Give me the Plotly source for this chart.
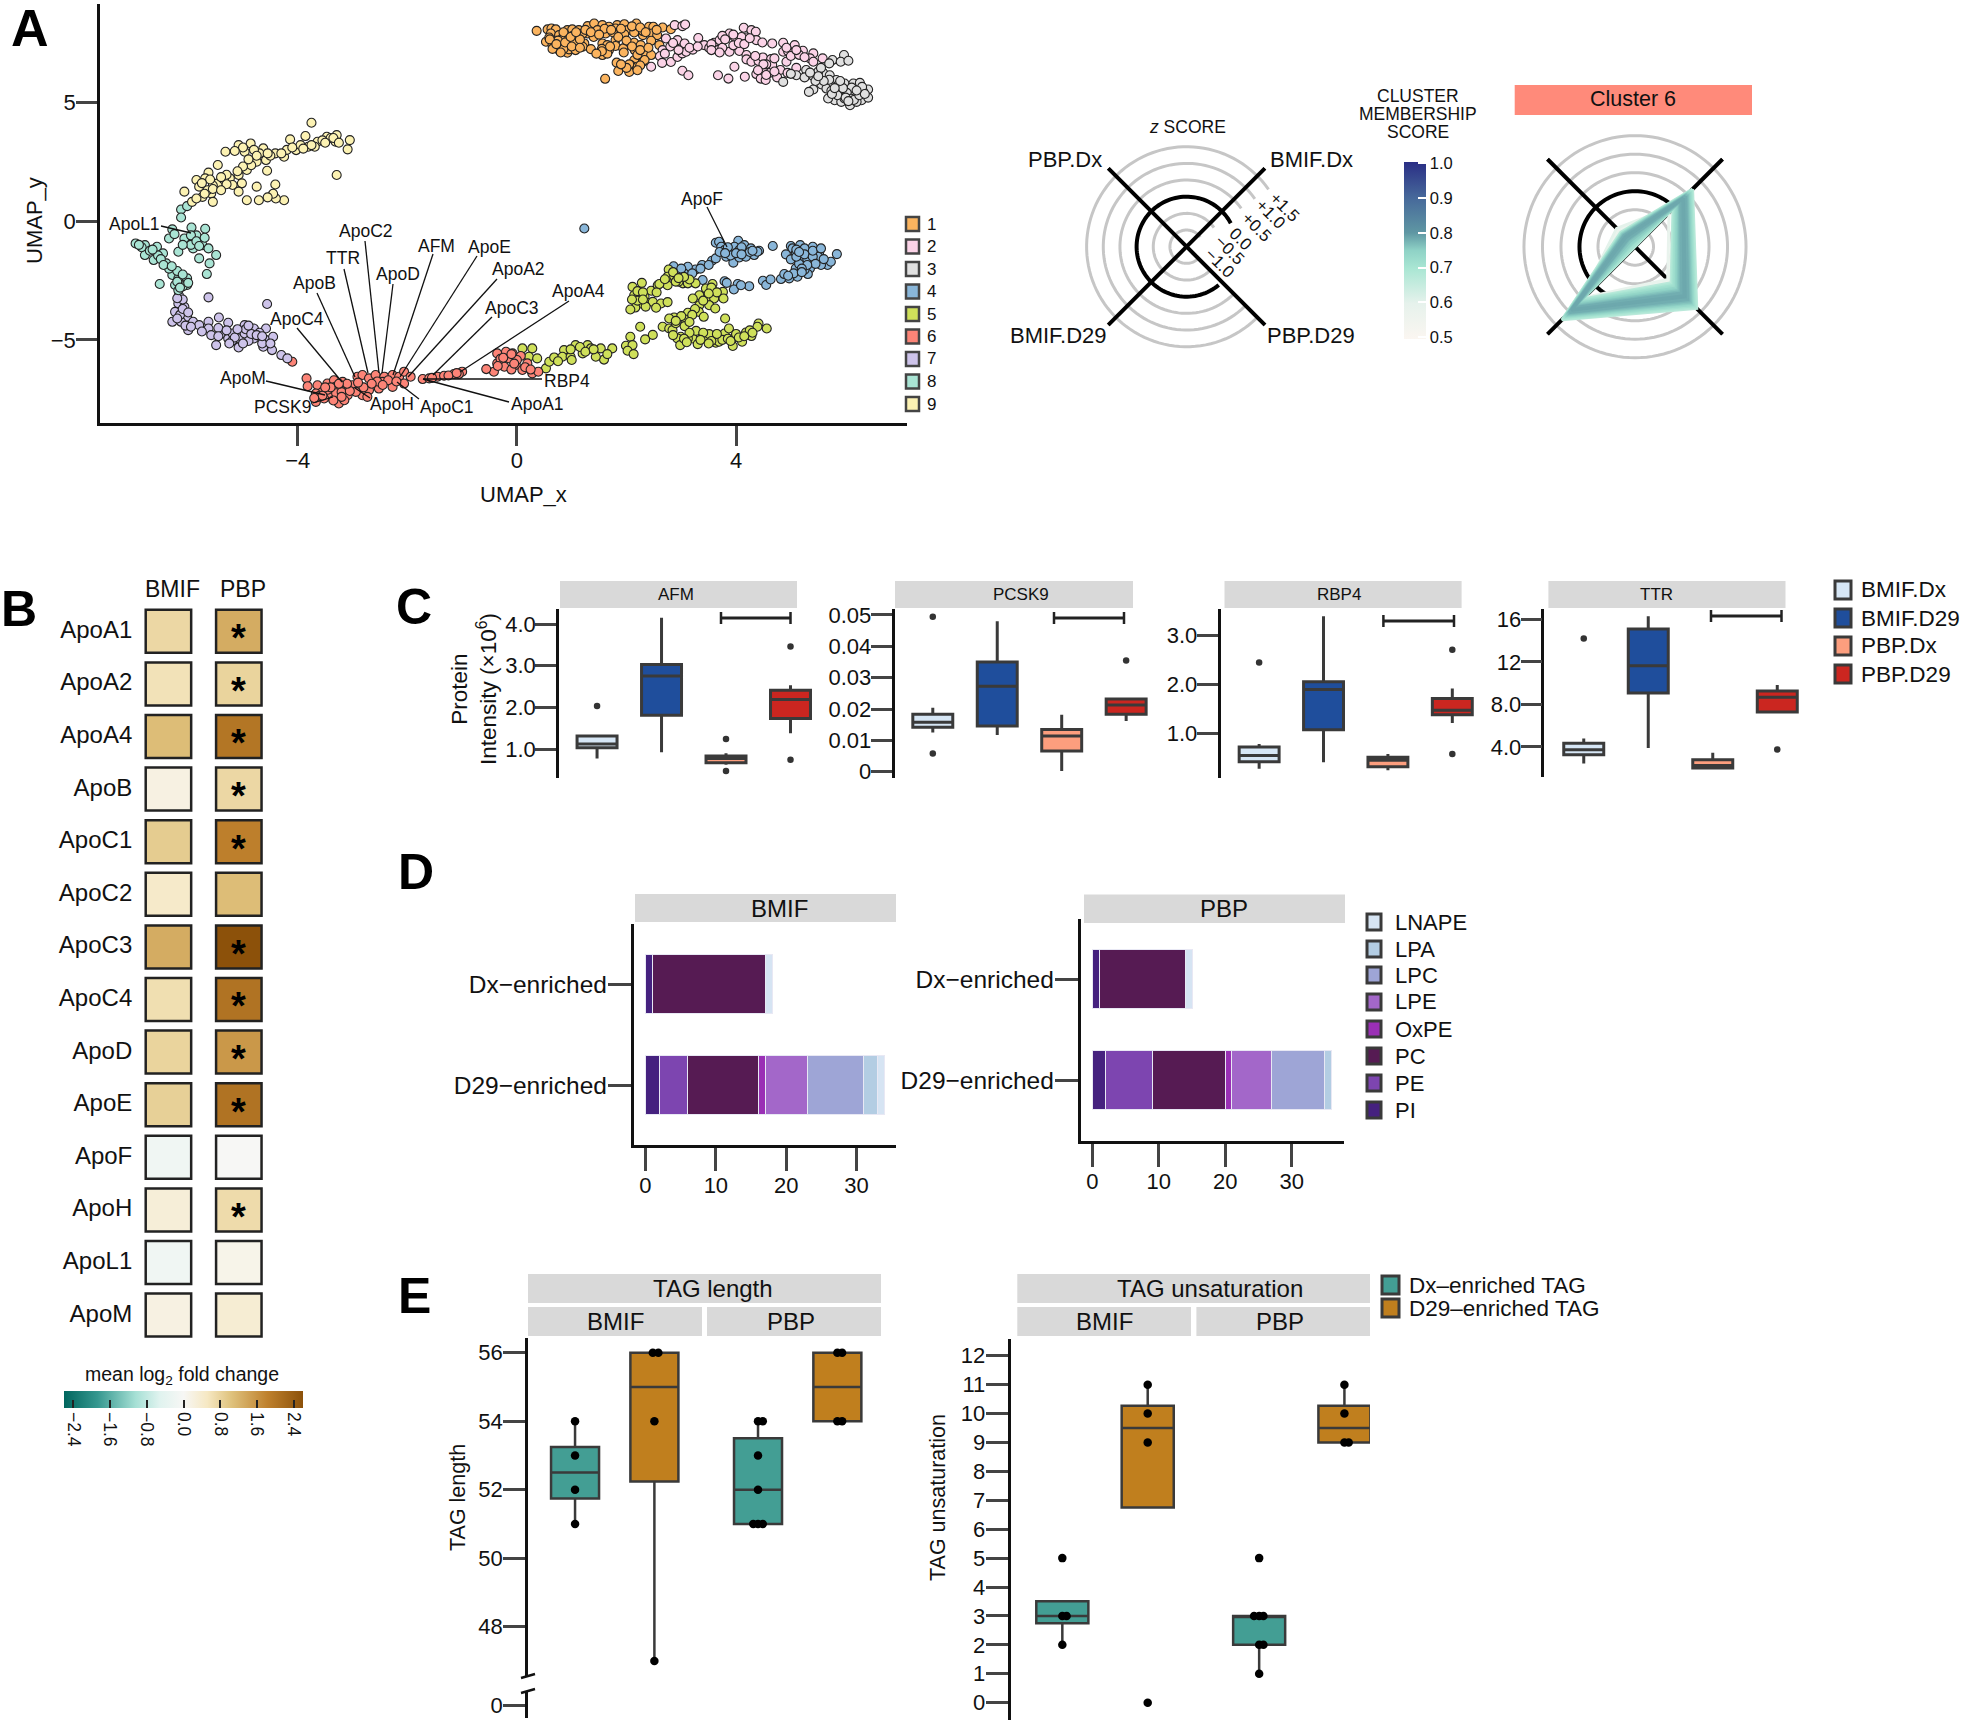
import plotly.graph_objects as go
from plotly.colors import sample_colorscale

W, H = 1961, 1720
FONT = "Liberation Sans, Arial, sans-serif"

# ---------- Panel A data (UMAP coordinates) ----------
CLUSTER_1 = [(.36,8.01),(.56,8.07),(.63,8.11),(.71,8.07),(.62,7.90),(.77,7.83),(.53,7.55),(.68,7.55),(.59,7.73),(.83,7.69),(.92,8.04),(1.01,8.07),(1.13,8.04),(1.29,8.21),(1.41,8.32),(1.56,8.25),(1.68,8.18),(1.83,8.25),(1.96,8.29),(2.18,8.32),(2.41,8.18),(2.49,8.18),(2.66,8.15),(2.81,8.08),(1.01,7.79),(1.13,7.76),(1.29,7.90),(1.47,8.04),(1.62,7.90),(1.80,8.11),(2.02,8.04),(2.14,7.94),(1.96,7.86),(2.30,7.83),(2.47,7.90),(2.56,7.83),(.77,7.2),(.92,7.09),(.95,7.23),(1.10,7.48),(1.23,7.48),(1.07,7.2),(1.20,7.34),(1.35,7.24),(.92,7.48),(1.56,7.48),(1.65,7.41),(1.80,7.62),(1.56,6.99),(1.68,7.2),(1.80,7.37),(1.94,7.27),(2.14,7.51),(2.26,7.41),(2.45,7.59),(2.60,7.41),(2.15,7.2),(2.31,7.09),(2.45,6.99),(2.30,6.7),(2.14,6.77),(2.08,6.56),(1.82,6.67),(2.05,6.28),(1.85,6.32),(1.61,5.99),(2.20,6.5),(2.33,6.78),(.65,7.41),(.83,7.41),(.75,7.6),(.95,7.65),(.85,7.95),(1.05,7.55),(1.2,7.9),(1.4,7.75),(1.6,8.1),(1.75,7.95),(1.9,8.1),(2.1,8.2),(2.3,8.0),(2.55,8.05),(.65,7.25),(.85,7.25),(1.15,7.65),(1.65,7.05),(1.55,7.25),(1.95,7.1),(2.2,7.0),(2.05,6.6),(2.25,6.55),(.6,7.65),(.72,7.45),(.88,7.52),(1.0,7.35),(.8,7.1),(1.15,7.3),(.98,7.75),(1.08,7.95),(1.25,8.05),(1.35,7.95),(1.5,7.85),(1.72,8.05),(1.85,7.75),(2.25,8.15),(2.35,7.95),(2.0,7.6),(2.1,7.35),(2.25,7.2),(2.4,7.3),(1.55,7.15),(1.7,7.35),(1.45,7.05),(2.0,6.45),(2.2,6.35),(1.9,6.6)]
CLUSTER_2 = [(2.88,8.25),(3.02,8.21),(3.07,8.28),(2.72,7.69),(2.93,7.62),(3.06,7.48),(2.66,7.2),(2.61,6.94),(2.65,6.66),(2.81,6.7),(2.93,6.91),(3.02,7.06),(3.09,7.13),(3.21,7.22),(3.31,7.71),(3.42,7.41),(3.51,7.29),(3.60,7.51),(3.70,7.62),(3.88,7.90),(3.97,7.76),(4.14,8.14),(4.28,8.04),(4.36,7.97),(4.19,7.73),(4.37,7.62),(4.48,7.52),(4.66,7.48),(4.86,7.51),(5.07,7.41),(5.22,7.17),(5.41,7.06),(5.58,6.85),(4.86,7.13),(5.03,7.06),(3.67,7.2),(3.88,7.13),(4.06,7.16),(4.19,6.99),(4.19,6.81),(4.28,6.71),(4.41,6.74),(4.49,6.89),(4.64,6.82),(4.92,6.71),(5.10,6.45),(5.35,6.85),(5.41,6.71),(3.02,6.33),(3.13,6.14),(2.45,6.5),(3.67,6.14),(3.86,6.0),(3.97,6.5),(4.16,6.08),(4.37,6.19),(4.45,6.0),(4.54,5.94),(4.61,6.24),(4.49,6.43),(4.81,6.36),(4.94,6.24),(4.75,6.05),(4.66,6.57),(3.75,7.8),(3.95,7.4),(4.1,7.75),(3.75,7.3),(4.95,7.15),(2.8,7.35),(2.95,7.2),(4.55,6.6),(2.85,7.5),(2.7,7.05),(3.15,7.3),(3.3,7.35),(3.55,7.45),(3.8,7.65),(3.95,7.85),(4.05,7.5),(4.15,7.45),(4.25,7.7),(4.5,6.6),(4.4,6.35),(4.55,6.15),(4.7,6.3),(5.0,6.95),(5.15,7.0),(5.25,6.9),(5.1,7.2),(4.92,7.3),(3.55,7.2),(3.7,7.1),(4.35,6.95),(4.7,6.85)]
CLUSTER_3 = [(5.76,6.78),(5.97,6.99),(5.91,6.71),(6.05,6.75),(5.70,6.64),(5.28,6.36),(5.10,6.14),(5.25,6.05),(5.41,6.1),(5.59,6.24),(5.71,6.14),(5.83,5.94),(4.86,5.86),(5.56,5.75),(5.65,5.58),(5.41,5.54),(5.33,5.44),(5.74,5.49),(5.80,5.09),(5.92,5.30),(6.05,5.51),(5.98,5.79),(6.14,5.79),(6.26,5.82),(6.41,5.54),(6.23,5.3),(6.14,5.44),(6.08,4.88),(6.29,5.09),(6.41,5.2),(5.92,5.02),(6.11,5.62),(5.83,5.51),(5.98,5.16),(5.68,5.16),(6.2,5.02),(5.5,6.3),(5.85,5.7),(6.02,5.4),(6.32,5.45),(6.1,5.15),(5.85,5.3),(6.3,5.65),(5.95,5.6),(5.55,6.45),(5.7,5.95),(5.6,5.9),(5.75,5.35),(5.9,5.9),(6.0,5.2),(6.15,5.1),(6.25,5.3),(6.35,5.35),(6.2,5.5),(6.05,5.05),(5.8,5.6),(5.45,5.9),(5.5,6.1),(5.0,6.2),(5.35,6.25)]
CLUSTER_4 = [(3.63,-.91),(3.69,-.87),(3.73,-1.08),(3.79,-1.22),(3.91,-1.29),(4.04,-.83),(4.15,-1.01),(3.97,-1.08),(4.06,-1.22),(4.17,-1.29),(3.95,-1.75),(3.82,-1.50),(4.06,-1.53),(4.18,-1.50),(4.33,-1.43),(4.42,-1.25),(4.27,-1.15),(4.39,-1.29),(4.67,-1.05),(5.0,-1.05),(5.03,-1.15),(5.17,-1.01),(5.40,-1.08),(5.52,-1.29),(5.34,-1.36),(5.09,-1.36),(4.91,-1.40),(5.0,-1.61),(5.20,-1.67),(5.46,-1.57),(5.67,-1.85),(5.73,-1.71),(5.84,-1.39),(5.55,-1.85),(5.35,-1.99),(5.09,-1.99),(5.31,-2.23),(5.12,-2.34),(4.97,-2.41),(4.82,-2.44),(4.88,-2.23),(3.56,-1.67),(3.38,-1.85),(3.50,-1.85),(3.63,-1.57),(3.26,-2.04),(3.12,-1.92),(2.96,-2.09),(2.86,-1.9),(3.39,-2.48),(3.79,-2.53),(3.83,-2.6),(4.03,-2.65),(4.24,-2.74),(4.49,-2.51),(4.55,-2.69),(4.63,-2.46),(3.96,-2.88),(4.09,-2.7),(1.23,-.31),(5.25,-1.15),(5.3,-1.6),(5.5,-1.5),(5.15,-1.8),(5.25,-2.05),(3.9,-1.45),(4.1,-1.1),(3.05,-2.2),(3.7,-1.3),(3.85,-1.1),(4.0,-1.35),(4.25,-1.3),(4.3,-1.25),(4.1,-1.4),(3.8,-1.35),(5.1,-1.5),(5.25,-1.4),(5.4,-1.5),(5.6,-1.6),(5.45,-1.8),(5.3,-1.85),(5.2,-2.0),(5.4,-1.25),(5.55,-1.15),(5.05,-2.2),(5.2,-2.15),(3.0,-2.0),(3.2,-2.2),(3.35,-2.0),(5.1,-1.2),(4.95,-2.3),(5.15,-1.3)]
CLUSTER_5 = [(2.11,-2.77),(2.28,-2.60),(2.45,-2.93),(2.57,-2.7),(2.75,-2.7),(2.77,-2.04),(2.75,-2.34),(2.87,-2.32),(3.03,-2.62),(3.12,-2.62),(3.26,-2.62),(3.15,-2.46),(2.14,-3.12),(2.23,-3.19),(2.33,-3.19),(2.25,-3.47),(2.37,-3.44),(2.48,-3.4),(2.63,-3.47),(2.75,-3.41),(2.54,-3.65),(2.16,-3.64),(2.07,-3.72),(3.57,-2.65),(3.45,-2.84),(3.60,-2.98),(3.76,-2.98),(3.48,-3.19),(3.33,-3.12),(3.21,-3.26),(3.6,-3.26),(3.77,-3.26),(3.33,-3.54),(3.51,-3.54),(3.62,-3.68),(3.32,-3.82),(3.12,-3.86),(3.41,-4.03),(3.07,-4.14),(2.87,-4.06),(2.78,-4.1),(3.80,-4.1),(2.66,-4.45),(2.78,-4.52),(3.06,-4.42),(2.84,-4.59),(2.25,-4.45),(2.07,-4.87),(2.48,-4.79),(2.34,-4.98),(1.99,-5.25),(2.11,-5.22),(2.02,-5.46),(2.13,-5.6),(2.99,-4.87),(2.93,-4.94),(3.21,-4.94),(3.44,-4.94),(3.60,-4.87),(3.79,-4.73),(3.87,-4.52),(3.97,-4.9),(4.18,-4.69),(4.41,-4.31),(4.39,-4.45),(4.56,-4.52),(2.98,-5.22),(3.30,-5.18),(3.63,-5.12),(3.69,-5.08),(3.94,-5.26),(4.11,-5.08),(4.28,-4.84),(3.27,-4.62),(3.51,-4.76),(3.12,-4.94),(.10,-5.36),(.28,-5.36),(.22,-5.71),(.37,-5.78),(.53,-6.2),(.59,-5.92),(.68,-5.74),(.86,-5.43),(.83,-5.71),(.98,-5.71),(1.07,-5.22),(1.29,-5.22),(1.35,-5.36),(1.53,-5.36),(1.59,-5.83),(1.74,-5.36),(1.44,-5.71),(1.2,-5.57),(2.9,-4.3),(3.15,-4.7),(3.4,-4.7),(3.75,-5.0),(4.0,-4.75),(4.25,-4.6),(3.55,-5.05),(2.55,-3.0),(2.95,-2.55),(2.2,-3.35),(2.6,-2.65),(2.7,-2.45),(2.9,-2.55),(3.05,-2.35),(2.85,-2.15),(2.95,-2.4),(2.2,-2.95),(2.3,-3.0),(2.1,-3.3),(2.35,-3.6),(2.3,-3.3),(3.55,-2.8),(3.65,-3.0),(3.4,-3.35),(3.5,-3.05),(3.25,-3.7),(3.2,-3.95),(3.0,-4.0),(2.9,-4.2),(3.15,-4.25),(2.85,-4.8),(3.05,-4.95),(3.1,-5.1),(3.35,-5.0),(3.5,-5.15),(3.65,-4.75),(3.85,-4.95),(3.9,-5.05),(4.05,-4.9),(4.15,-4.85),(4.3,-4.7),(.98,-5.4),(1.15,-5.3),(1.25,-5.5),(1.4,-5.4),(1.65,-5.6),(.75,-5.9),(1.0,-5.85)]
CLUSTER_6 = [(-3.84,-6.62),(-3.82,-6.95),(-3.64,-6.91),(-3.46,-6.84),(-3.34,-6.7),(-3.18,-6.77),(-3.31,-6.98),(-3.12,-7.05),(-3.0,-6.91),(-2.91,-6.55),(-2.82,-6.48),(-2.7,-6.62),(-2.58,-6.48),(-2.42,-6.55),(-2.27,-6.48),(-2.15,-6.55),(-2.06,-6.34),(-1.94,-6.55),(-2.06,-6.84),(-2.27,-6.98),(-2.45,-6.77),(-2.52,-7.05),(-2.7,-7.12),(-2.82,-7.33),(-2.73,-7.4),(-2.94,-7.19),(-3.09,-7.33),(-3.25,-7.68),(-3.4,-7.4),(-3.55,-7.19),(-3.67,-7.26),(-3.67,-7.61),(-3.52,-7.47),(-3.15,-7.54),(-1.72,-6.65),(-1.6,-6.62),(-1.45,-6.55),(-1.33,-6.51),(-1.15,-6.44),(-1.0,-6.34),(-.36,-5.57),(-.2,-5.5),(-.08,-5.57),(.07,-5.68),(-.36,-5.99),(-.42,-6.34),(-.56,-6.23),(-.23,-6.13),(-.02,-6.06),(.1,-6.27),(.28,-6.41),(.39,-6.34),(-.14,-5.78),(.19,-5.99),(-1.06,-6.44),(-4.1,-5.92),(-3.45,-7.1),(-3.3,-7.25),(-3.6,-7.35),(-2.55,-6.75),(-3.2,-7.2),(-.3,-5.8),(.0,-5.85),(-.1,-6.25),(-3.4,-7.0),(-3.55,-7.35),(-3.35,-7.55),(-3.2,-7.4),(-3.05,-7.15),(-2.8,-7.0),(-2.9,-6.8),(-2.65,-6.85),(-2.35,-6.7),(-2.2,-6.75),(-2.45,-6.9),(-3.1,-6.85),(-3.25,-6.85),(-3.5,-7.0),(-3.7,-7.45),(-1.55,-6.6),(-1.25,-6.5),(-1.1,-6.4),(-.25,-5.75),(-.05,-6.0),(.15,-6.15),(.25,-6.25),(-.35,-6.1),(-.1,-5.6)]
CLUSTER_7 = [(-5.63,-3.21),(-4.56,-3.49),(-6.17,-3.12),(-6.18,-3.47),(-6.07,-3.61),(-6.24,-3.82),(-6.02,-4.03),(-6.29,-4.24),(-6.13,-4.24),(-5.91,-4.24),(-6.0,-4.59),(-5.63,-4.24),(-5.44,-4.06),(-5.27,-4.28),(-5.63,-4.52),(-5.58,-4.8),(-5.38,-4.73),(-4.97,-4.38),(-4.8,-4.52),(-4.58,-4.52),(-5.27,-4.94),(-5.08,-4.94),(-4.8,-4.94),(-4.58,-5.01),(-4.45,-4.87),(-5.49,-5.22),(-5.08,-5.32),(-4.63,-5.29),(-4.47,-5.43),(-4.3,-5.64),(-4.19,-5.78),(-4.97,-4.73),(-5.19,-4.73),(-5.8,-4.38),(-6.1,-3.3),(-6.15,-3.95),(-6.05,-4.4),(-5.45,-4.5),(-5.2,-5.05),(-4.9,-5.05),(-4.7,-4.7),(-4.65,-5.15),(-4.95,-4.55),(-6.1,-3.7),(-6.0,-3.85),(-6.2,-4.1),(-5.95,-4.45),(-5.75,-4.65),(-5.45,-4.85),(-5.3,-4.6),(-5.15,-4.9),(-5.0,-5.15),(-4.85,-4.75),(-4.75,-4.8),(-4.9,-4.4),(-4.65,-4.85),(-4.5,-5.15),(-5.25,-5.15),(-5.1,-4.55),(-6.2,-3.25)]
CLUSTER_8 = [(-6.13,.49),(-6.02,.63),(-6.13,.15),(-5.94,-.27),(-5.69,-.32),(-6.29,-.35),(-6.35,-.73),(-6.07,-.73),(-5.8,-.8),(-5.74,-1.01),(-6.96,-.94),(-6.79,-1.01),(-6.57,-1.08),(-6.46,-1.36),(-6.79,-1.43),(-6.63,-1.64),(-6.18,-1.29),(-5.63,-1.15),(-5.49,-1.43),(-5.8,-1.57),(-5.61,-1.78),(-5.66,-2.23),(-6.4,-1.78),(-6.29,-2.27),(-6.52,-2.65),(-6.18,-2.41),(-6.02,-2.41),(-6.24,-2.69),(-6.02,-2.69),(-6.18,-2.91),(-5.91,-1.15),(-6.85,-1.1),(-6.7,-1.25),(-6.55,-1.45),(-6.35,-2.0),(-5.85,-.6),(-5.95,-1.0),(-6.2,-2.1),(-6.1,-2.75),(-6.25,-.55),(-5.95,-.6),(-5.85,-.85),(-5.7,-.7),(-6.1,-1.0),(-6.65,-1.2),(-6.5,-1.6),(-6.45,-1.85),(-6.3,-1.9),(-6.2,-2.55),(-6.1,-2.25),(-6.15,-2.8),(-6.0,-2.6),(-6.9,-1.0),(-5.8,-1.05)]
CLUSTER_9 = [(-3.75,4.14),(-3.05,3.41),(-3.29,3.62),(-3.47,3.55),(-3.64,3.34),(-3.86,3.58),(-4.14,3.44),(-4.03,2.99),(-3.81,3.13),(-4.25,2.71),(-4.41,2.85),(-4.63,3.06),(-4.86,3.27),(-5.08,3.2),(-4.97,2.92),(-5.32,2.92),(-4.58,2.57),(-4.75,2.5),(-4.93,2.15),(-5.08,1.94),(-5.24,1.8),(-5.63,2.04),(-5.46,2.36),(-5.85,1.73),(-5.69,1.8),(-5.46,1.59),(-5.19,1.52),(-5.02,1.59),(-4.56,2.12),(-4.41,1.54),(-4.75,1.45),(-4.47,1.09),(-4.25,.88),(-4.71,.88),(-4.93,.88),(-5.08,1.24),(-5.58,1.16),(-5.74,1.02),(-6.07,1.24),(-5.55,.81),(-5.93,.81),(-3.29,1.94),(-3.09,3.02),(-3.31,3.34),(-3.69,3.13),(-3.55,3.4),(-3.4,3.5),(-3.95,3.2),(-4.2,3.0),(-4.5,2.75),(-4.7,2.85),(-4.85,2.35),(-5.35,1.75),(-5.55,1.5),(-5.8,1.45),(-5.65,1.3),(-5.3,1.55),(-4.4,.95),(-3.35,3.5),(-3.25,3.3),(-3.5,3.3),(-3.75,3.2),(-3.9,3.05),(-4.1,3.1),(-4.3,2.85),(-4.55,2.85),(-4.8,3.0),(-5.0,3.1),(-5.15,2.95),(-4.75,2.75),(-4.9,2.6),(-5.0,2.3),(-5.1,2.1),(-5.3,1.95),(-5.4,1.85),(-5.6,1.75),(-5.75,1.6),(-5.55,1.35),(-5.7,1.15),(-5.85,.95),(-5.4,1.3),(-4.45,1.15),(-4.55,1.0)]
CLUSTER_COLORS = ["#fbb45f","#fbd3e7","#e0e0e0","#89b6d9","#cfe05a","#fc8477","#cdc3ea","#a9e4d4","#fcf2b3"]
CLUSTER_NAMES = ["1","2","3","4","5","6","7","8","9"]

# ---------- Radar ----------
RADAR_THETA = [45, 135, 225, 315, 45]   # BMIF.Dx, PBP.Dx, BMIF.D29, PBP.D29
RING_Z = [-1.0, -0.5, 0.5, 1.0, 1.5]
RING_LABELS = ["−1.0", "−0.5", "0.0", "+0.5", "+1.0", "+1.5"]
MEM_SCORE = [.55,.58,.6,.67,.67,.69,.69,.71,.71,.72,.73,.74,.75,.75,.76,.76,.77,.77,.78,.78,.78,.78,.785,.785]
Z_BMIF_DX = [.0,-.2,.1,-.05,.7,-.01,.66,.03,.63,.06,.59,.1,.55,.14,.51,.18,.48,.21,.44,.25,.4,.29,.36,.33]
Z_PBP_DX = [-.85,-.9,-.8,-1.5,-.95,-1.48,-.97,-1.45,-1.0,-1.4,-1.0,-1.38,-1.02,-1.35,-1.04,-1.3,-1.06,-1.25,-1.08,-1.22,-1.1,-1.18,-1.12,-1.15]
Z_BMIF_D29 = [.5,.45,.6,.5,1.29,.54,1.25,.58,1.21,.62,1.17,.66,1.13,.70,1.09,.74,1.05,.78,1.01,.82,.97,.86,.93,.9]
Z_PBP_D29 = [-.2,-.25,-.1,-.12,.86,-.07,.81,-.02,.76,.03,.71,.08,.66,.13,.62,.17,.57,.22,.52,.27,.47,.32,.42,.37]
MEM_SCALE = [[0,"#fbf6f1"],[.2,"#e6f2ec"],[.4,"#a9e6d3"],[.5,"#8fd2c6"],[.6,"#5f97a3"],[.8,"#46689a"],[1,"#2a2e85"]]

# ---------- Panel B ----------
APO = ["ApoA1","ApoA2","ApoA4","ApoB","ApoC1","ApoC2","ApoC3","ApoC4","ApoD","ApoE","ApoF","ApoH","ApoL1","ApoM"]
BMIF_LFC = [.75,.6,1.1,.2,.9,.45,1.3,.65,.8,.85,-.15,.3,-.15,.2]
PBP_LFC = [1.3,.8,2.0,.75,1.85,1.1,2.6,2.05,1.55,2.05,0,.7,.12,.35]
PBP_STAR = [1,1,1,1,1,0,1,1,1,1,0,1,0,0]
BRBG = [[0,"#01665e"],[.14,"#35978f"],[.3,"#a6e0d5"],[.4,"#e0f3ef"],[.5,"#f7f7f5"],[.6,"#f6e8c3"],[.7,"#dfc27d"],[.85,"#bf812d"],[1,"#8c510a"]]
LFC_TICKS = [-2.4,-1.6,-.8,0,.8,1.6,2.4]
LFC_TICKTEXT = ["−2.4","−1.6","−0.8","0.0","0.8","1.6","2.4"]
LFC_MINOR = [-2.0,-1.2,-.4,.4,1.2,2.0]

# ---------- Panel C ----------
C_GROUPS = ["BMIF.Dx","BMIF.D29","PBP.Dx","PBP.D29"]
C_COLORS = ["#d6e6f5","#1f4e9c","#fc9e7e","#cb2620"]
AFM_Q1=[1.03,1.81,.67,1.73]; AFM_MED=[1.12,2.75,.77,2.19]; AFM_Q3=[1.31,3.03,.83,2.41]; AFM_LOW=[.77,.92,.62,1.38]; AFM_HIGH=[1.31,4.15,.9,2.53]
AFM_OUT_X=[0,2,2,3,3]; AFM_OUT_Y=[2.03,1.24,.47,3.46,.74]
PCSK9_Q1=[.0142,.0146,.0066,.0183]; PCSK9_MED=[.0158,.0273,.0114,.0213]; PCSK9_Q3=[.0183,.035,.0135,.0232]; PCSK9_LOW=[.0125,.0117,.0002,.0162]; PCSK9_HIGH=[.0204,.048,.0182,.0232]
PCSK9_OUT_X=[0,0,3]; PCSK9_OUT_Y=[.0494,.0058,.0355]
RBP4_Q1=[.42,1.07,.32,1.38]; RBP4_MED=[.55,1.89,.45,1.47]; RBP4_Q3=[.72,2.05,.51,1.71]; RBP4_LOW=[.28,.41,.25,1.21]; RBP4_HIGH=[.78,3.38,.58,1.91]
RBP4_OUT_X=[0,3,3]; RBP4_OUT_Y=[2.44,2.7,.58]
TTR_Q1=[3.25,9.06,2.0,7.28]; TTR_MED=[3.72,11.63,2.25,8.66]; TTR_Q3=[4.34,15.09,2.78,9.25]; TTR_LOW=[2.44,3.88,1.9,7.28]; TTR_HIGH=[4.78,16.28,3.44,9.81]
TTR_OUT_X=[0,3]; TTR_OUT_Y=[14.19,3.75]

# ---------- Panel D ----------
LIPIDS = ["PI","PE","PC","OxPE","LPE","LPC","LPA","LNAPE"]
LIPID_COLORS = ["#45217f","#7d45b0","#561b53","#9a2fb5","#a367c9","#9ea5d6","#b3cde3","#d6e4f3"]
BMIF_DX_COUNT = [1,0,16,0,0,0,0,1]
BMIF_D29_COUNT = [2,4,10,1,6,8,2,1]
PBP_DX_COUNT = [1,0,13,0,0,0,0,1]
PBP_D29_COUNT = [2,7,11,1,6,8,1,0]
LEGEND_LIPIDS = ["LNAPE","LPA","LPC","LPE","OxPE","PC","PE","PI"]

# ---------- Panel E ----------
TEAL, ORANGE = "#439e94", "#c07f1e"
LEN_BM_Q1=[51.74,52.24]; LEN_BM_MED=[52.5,55]; LEN_BM_Q3=[53.25,56]; LEN_BM_LOW=[51,47]; LEN_BM_HIGH=[54,56]
LEN_PB_Q1=[51,54]; LEN_PB_MED=[52,55]; LEN_PB_Q3=[53.5,56]; LEN_PB_LOW=[51,54]; LEN_PB_HIGH=[54,56]
LEN_BM_PX=[0,0,0,0,.98,1.05,1,1]; LEN_BM_PY=[54,53,52,51,56,56,54,47]
LEN_PB_PX=[0,.06,0,0,-.06,0,.06,1,1.06,1,1.06]; LEN_PB_PY=[54,54,53,52,51,51,51,56,56,54,54]
UNS_BM_Q1=[2.75,6.75]; UNS_BM_MED=[3,9.5]; UNS_BM_Q3=[3.51,10.27]; UNS_BM_LOW=[2,6.75]; UNS_BM_HIGH=[3.51,11]
UNS_PB_Q1=[2,9]; UNS_PB_MED=[3,9.5]; UNS_PB_Q3=[3,10.27]; UNS_PB_LOW=[1,9]; UNS_PB_HIGH=[3,11]
UNS_BM_PX=[0,0,.05,0,1,1,1,1]; UNS_BM_PY=[5,3,3,2,11,10,9,0]
UNS_PB_PX=[0,-.06,0,.05,0,.05,0,1,1,1,1.05]; UNS_PB_PY=[5,3,3,3,2,2,1,11,10,9,9]

# ---------- Figure helpers ----------
fig = go.Figure()
layout = {}
shapes, annotations = [], []
ax_n = [0]

def px_x(x): return x / W
def px_y(y): return 1 - y / H

def line(x0, y0, x1, y1, color="#222", width=2.5):
    shapes.append(dict(type="line", xref="paper", yref="paper", x0=px_x(x0), x1=px_x(x1),
                       y0=px_y(y0), y1=px_y(y1), line=dict(color=color, width=width)))

def rect(x0, y0, x1, y1, fill, border=None, width=0):
    shapes.append(dict(type="rect", xref="paper", yref="paper", x0=px_x(x0), x1=px_x(x1),
                       y0=px_y(y0), y1=px_y(y1), fillcolor=fill,
                       line=dict(color=border or fill, width=width)))

def text(x, y, s, size=20, anchor="center", angle=0, bold=False, color="#111"):
    annotations.append(dict(xref="paper", yref="paper", x=px_x(x), y=px_y(y), text=s, showarrow=False,
                            xanchor=anchor, yanchor="middle", textangle=angle,
                            font=dict(size=size, color=color,
                                      family=FONT, weight="bold" if bold else "normal")))

def strip(x0, y0, x1, y1, s, size, tx=None):
    rect(x0, y0, x1, y1, "#d9d9d9")
    text(tx if tx is not None else (x0 + x1) / 2, (y0 + y1) / 2, s, size)

def axes(xd, yd, xr, yr, xo=None, yo=None):
    ax_n[0] += 1
    n = ax_n[0]
    base = dict(showgrid=False, zeroline=False, showline=False, ticks="", showticklabels=False, fixedrange=True)
    xa = dict(base, domain=[px_x(xd[0]), px_x(xd[1])], range=xr, anchor=f"y{n}")
    ya = dict(base, domain=[px_y(yd[1]), px_y(yd[0])], range=yr, anchor=f"x{n}")
    xa.update(xo or {})
    ya.update(yo or {})
    layout[f"xaxis{n}"] = xa
    layout[f"yaxis{n}"] = ya
    return f"x{n}", f"y{n}"

def tick_axis(vals, labels=None, size=22, ln=21, standoff=-4):
    d = dict(showline=True, linecolor="#111", linewidth=2.5, ticks="outside", ticklen=ln, tickwidth=2.5,
             tickcolor="#444", showticklabels=True, tickvals=vals, tickfont=dict(size=size, color="#111"),
             ticklabelstandoff=standoff)
    if labels is not None:
        d["ticktext"] = labels
    return d

def box(xa, ya, xpos, q1, med, q3, low, high, colors, width, lw=2.5):
    for i, c in enumerate(colors):
        fig.add_trace(go.Box(x=[xpos[i]], q1=[q1[i]], median=[med[i]], q3=[q3[i]], lowerfence=[low[i]],
                             upperfence=[high[i]], width=width, fillcolor=c, whiskerwidth=0,
                             boxpoints=False, line=dict(color="#3a3a3a", width=lw), xaxis=xa, yaxis=ya,
                             showlegend=False, hoverinfo="skip"))

def dots(xa, ya, xs, ys, size, color="#333"):
    fig.add_trace(go.Scatter(x=xs, y=ys, mode="markers", marker=dict(size=size, color=color),
                             xaxis=xa, yaxis=ya, showlegend=False, hoverinfo="skip"))

def legend_row(x0, x1, yc, h, color, label, tx, size):
    rect(x0, yc - h / 2, x1, yc + h / 2, color, "#3a3a3a", 3)
    text(tx, yc, label, size, anchor="left")

# ---------- Panel letters ----------
text(30, 28, "A", 52, bold=True, color="#000")
text(19, 609, "B", 50, bold=True, color="#000")
text(414, 607, "C", 50, bold=True, color="#000")
text(416, 872, "D", 50, bold=True, color="#000")
text(414, 1296, "E", 50, bold=True, color="#000")

# ---------- Panel A ----------
xa, ya = axes((100, 907), (4, 423), [-7.61, 7.12], [-8.5, 9.14],
              tick_axis([-4, 0, 4], size=22, ln=20), tick_axis([-5, 0, 5], size=22, ln=21))
clusters = [CLUSTER_1, CLUSTER_2, CLUSTER_3, CLUSTER_4, CLUSTER_5, CLUSTER_6, CLUSTER_7, CLUSTER_8, CLUSTER_9]
for pts, col, name in zip(clusters, CLUSTER_COLORS, CLUSTER_NAMES):
    fig.add_trace(go.Scatter(x=[p[0] for p in pts], y=[p[1] for p in pts], mode="markers", name=name,
                             marker=dict(size=9, color=col, line=dict(color="#222", width=1.1)),
                             xaxis=xa, yaxis=ya, showlegend=False, hoverinfo="skip"))
text(523, 494, "UMAP_x", 22)
text(35, 221, "UMAP_y", 22, angle=-90)
for i, (name, col) in enumerate(zip(CLUSTER_NAMES, CLUSTER_COLORS)):
    yc = 224 + 22.5 * i
    rect(906, yc - 7, 919, yc + 7, col, "#444", 2.5)
    text(925, yc, name, 17, anchor="left")

GENE_LABELS = [("ApoC2",366,231,365,241,379,373),("TTR",343,258,344,269,368,373),("AFM",436,246,433,254,393,375),
               ("ApoE",489,247,477,256,400,377),("ApoD",398,274,393,284,382,373),("ApoA2",518,269,497,279,408,377),
               ("ApoB",314,283,317,293,355,377),("ApoA4",578,291,569,301,460,372),("ApoC3",512,308,492,317,433,375),
               ("ApoC4",297,319,297,328,342,382),("ApoM",243,378,266,381,325,395),("PCSK9",282,407,313,403,333,397),
               ("ApoH",392,404,370,398,355,388),("ApoC1",447,407,419,399,397,382),("ApoA1",537,404,509,402,423,379),
               ("RBP4",567,381,542,379,423,379),("ApoF",702,199,707,207,727,247),("ApoL1",134,224,161,226,191,233)]
for name, tx, ty, x0, y0, x1, y1 in GENE_LABELS:
    text(tx, ty, name, 17.5)
    line(x0, y0, x1, y1, "#111", 1.3)

# ---------- Radar panels ----------
def ring_trace(sub, z, theta, color, width):
    fig.add_trace(go.Scatterpolar(r=[z] * len(theta), theta=theta, mode="lines", subplot=sub,
                                  line=dict(color=color, width=width), showlegend=False, hoverinfo="skip"))

def radar_axes(sub, cx, cy, R, zmax):
    layout[sub] = dict(domain=dict(x=[px_x(cx - R), px_x(cx + R)], y=[px_y(cy + R), px_y(cy - R)]),
                       bgcolor="rgba(0,0,0,0)",
                       radialaxis=dict(visible=False, showticklabels=False, range=[-1.5, zmax]),
                       angularaxis=dict(visible=False, showticklabels=False))
    for t in (45, 135, 225, 315):
        fig.add_trace(go.Scatterpolar(r=[-1.5, zmax], theta=[t, t], mode="lines", subplot=sub,
                                      line=dict(color="#000", width=4), showlegend=False, hoverinfo="skip"))

arc = list(range(35, 316, 3))
black_arc = list(range(28, 313, 3))
for z in RING_Z:
    ring_trace("polar", z, arc, "#c6c6c6", 3)
ring_trace("polar", 0, black_arc, "#000", 4)
radar_axes("polar", 1186.6, 246.7, 111, 1.83)
for s, (x, y) in zip(RING_LABELS, [(1220,263),(1230,250),(1241,239),(1257,227),(1271,214),(1285,207)]):
    text(x, y, s, 17, angle=45)
text(1065, 160, "PBP.Dx", 22)
text(1311, 160, "BMIF.Dx", 22)
text(1058, 336, "BMIF.D29", 22)
text(1311, 336, "PBP.D29", 22)
text(1187, 127, "<i>z</i> SCORE", 17.5)
text(1418, 96, "CLUSTER", 17.5)
text(1418, 114, "MEMBERSHIP", 17.5)
text(1418, 132, "SCORE", 17.5)

full = list(range(0, 361, 3))
for z in RING_Z:
    ring_trace("polar2", z, full, "#c6c6c6", 3)
ring_trace("polar2", 0, full, "#000", 4)
radar_axes("polar2", 1635, 246.7, 124, 1.85)
MEM_MIN, MEM_MAX = .495, 1.003
for i, s in enumerate(MEM_SCORE):
    c = sample_colorscale(MEM_SCALE, [(s - MEM_MIN) / (MEM_MAX - MEM_MIN)])[0]
    r = [Z_BMIF_DX[i], Z_PBP_DX[i], Z_BMIF_D29[i], Z_PBP_D29[i], Z_BMIF_DX[i]]
    fig.add_trace(go.Scatterpolar(r=r, theta=RADAR_THETA, mode="lines", subplot="polar2",
                                  line=dict(color=c, width=3), showlegend=False, hoverinfo="skip"))
fig.add_trace(go.Scatterpolar(r=Z_BMIF_DX, theta=[45] * len(MEM_SCORE), mode="markers", subplot="polar2",
                              showlegend=False, hoverinfo="skip",
                              marker=dict(size=1, opacity=0, color=MEM_SCORE, colorscale=MEM_SCALE, cmin=MEM_MIN, cmax=MEM_MAX,
                                          colorbar=dict(x=px_x(1403.5), xanchor="left", y=px_y(162), yanchor="top",
                                                        len=177, lenmode="pixels", thickness=21.5, outlinewidth=0,
                                                        xpad=0, ypad=0, ticks="inside", tickcolor="#fff", ticklen=8,
                                                        tickwidth=2, tickvals=[.5, .6, .7, .8, .9, 1.0],
                                                        ticktext=["0.5", "0.6", "0.7", "0.8", "0.9", "1.0"],
                                                        tickfont=dict(size=16.5, color="#111")))))
rect(1514.7, 85, 1752, 115, "#ff8a7a")
text(1633, 99, "Cluster 6", 21.5)

# ---------- Panel B ----------
xa, ya = axes((133.25, 274), (605, 1341.4), [-.5, 1.5], [13.5, -.5], None,
              dict(showticklabels=True, tickvals=list(range(14)), ticktext=APO, tickfont=dict(size=24, color="#111"),
                   ticks="", ticklabelshift=2))
fig.add_trace(go.Heatmap(z=[[a, b] for a, b in zip(BMIF_LFC, PBP_LFC)], x=[0, 1], y=list(range(14)), xgap=25, ygap=10,
                         zmin=-2.6, zmax=2.6, colorscale=BRBG, xaxis=xa, yaxis=ya, hoverinfo="skip",
                         colorbar=dict(orientation="h", x=px_x(183.5), xanchor="center", y=px_y(1391), yanchor="top",
                                       len=239, lenmode="pixels", thickness=17, outlinewidth=0, xpad=0, ypad=0,
                                       ticks="inside", ticklen=8, tickwidth=1.5, tickcolor="#222",
                                       tickvals=LFC_TICKS, ticktext=LFC_TICKTEXT, tickangle=90,
                                       tickfont=dict(size=17.5, color="#111"))))
for v in LFC_MINOR:
    line(183.5 + 45.96 * v, 1400, 183.5 + 45.96 * v, 1408, "#222", 1.5)
for i in range(14):
    for j in range(2):
        shapes.append(dict(type="rect", xref=xa, yref=ya, x0=j - .323, x1=j + .323, y0=i - .409, y1=i + .409,
                           line=dict(color="#222", width=2.5)))
    if PBP_STAR[i]:
        annotations.append(dict(xref=xa, yref=ya, x=1, y=i, text="*", showarrow=False, yshift=-7,
                                font=dict(size=38, color="#000", family=FONT, weight="bold")))
text(172, 589, "BMIF", 23)
text(243, 589, "PBP", 23)
text(182, 1375, "mean log<sub>2</sub> fold change", 19.5)

# ---------- Panel C ----------
C_PANELS = [
 ("AFM", (559, 815), (609, 778), [-.59, 3.38], [.304, 4.36], [1, 2, 3, 4], ["1.0", "2.0", "3.0", "4.0"],
  AFM_Q1, AFM_MED, AFM_Q3, AFM_LOW, AFM_HIGH, AFM_OUT_X, AFM_OUT_Y, (560, 797, 675.5), (721, 790.5, 618)),
 ("PCSK9", (894.5, 1150), (609, 778), [-.594, 3.37], [-.002, .0519], [0, .01, .02, .03, .04, .05], ["0", "0.01", "0.02", "0.03", "0.04", "0.05"],
  PCSK9_Q1, PCSK9_MED, PCSK9_Q3, PCSK9_LOW, PCSK9_HIGH, PCSK9_OUT_X, PCSK9_OUT_Y, (895, 1133, 1021), (1054, 1124, 618)),
 ("RBP4", (1220.5, 1480), (609, 778), [-.60, 3.43], [.09, 3.53], [1, 2, 3], ["1.0", "2.0", "3.0"],
  RBP4_Q1, RBP4_MED, RBP4_Q3, RBP4_LOW, RBP4_HIGH, RBP4_OUT_X, RBP4_OUT_Y, (1224.5, 1461.6, 1338.5), (1383.4, 1454, 621)),
 ("TTR", (1544.4, 1805), (609, 777), [-.61, 3.43], [1.16, 16.97], [4, 8, 12, 16], ["4.0", "8.0", "12", "16"],
  TTR_Q1, TTR_MED, TTR_Q3, TTR_LOW, TTR_HIGH, TTR_OUT_X, TTR_OUT_Y, (1548.4, 1785.5, 1656.5), (1711, 1781.5, 616)),
]
for name, xd, yd, xr, yr, tv, tt, q1, med, q3, low, high, ox, oy, st, br in C_PANELS:
    xa, ya = axes(xd, yd, xr, yr, None, tick_axis(tv, tt, size=22, ln=21, standoff=-5))
    box(xa, ya, [0, 1, 2, 3], q1, med, q3, low, high, C_COLORS, .62, 3)
    dots(xa, ya, ox, oy, 6.5)
    strip(st[0], 581, st[1], 608, name, 17, st[2])
    line(br[0], br[2], br[1], br[2], "#222", 3)
    line(br[0], br[2] - 6, br[0], br[2] + 6, "#222", 2.5)
    line(br[1], br[2] - 6, br[1], br[2] + 6, "#222", 2.5)
text(474, 689, "Protein<br>Intensity (×10<sup>6</sup>)", 22.5, angle=-90)
for name, col, yc in zip(C_GROUPS, C_COLORS, [590, 618, 646, 674]):
    legend_row(1835, 1851, yc, 18, col, name, 1859, 22.5)

# ---------- Panel D ----------
D_TICKS = [0, 10, 20, 30]
D_CATS = ["D29−enriched", "Dx−enriched"]
D_PANELS = [((633.6, 896), (924, 1145), [-1.69, 35.6], [-.596, 1.6], BMIF_D29_COUNT, BMIF_DX_COUNT, (635, 896, 894, 922, 779), "BMIF"),
            ((1080.5, 1343.5), (919, 1141), [-1.79, 37.8], [-.6, 1.597], PBP_D29_COUNT, PBP_DX_COUNT, (1084, 1345, 894.5, 923, 1223.5), "PBP")]
for xd, yd, xr, yr, d29, dx, st, name in D_PANELS:
    xa, ya = axes(xd, yd, xr, yr, tick_axis(D_TICKS, size=22, ln=23, standoff=-4), tick_axis([0, 1], D_CATS, size=24.5, ln=23, standoff=-4))
    for k, (lip, col) in enumerate(zip(LIPIDS, LIPID_COLORS)):
        fig.add_trace(go.Bar(y=[0, 1], x=[d29[k], dx[k]], orientation="h", width=.586, name=lip,
                             marker=dict(color=col, line=dict(color="#e8e8f4", width=1)), xaxis=xa, yaxis=ya,
                             showlegend=False, hoverinfo="skip"))
    strip(st[0], st[2], st[1], st[3], name, 24, st[4])
for name, yc in zip(LEGEND_LIPIDS, [922, 949, 975, 1002, 1029, 1056, 1083, 1110]):
    legend_row(1367, 1381, yc, 16, LIPID_COLORS[LIPIDS.index(name)], name, 1392.5, 22)

# ---------- Panel E ----------
# TAG length: broken y axis
LEN_TICKS = [48, 50, 52, 54, 56]
xa, ya = axes((528, 702), (1338, 1677), [-.593, 1.6], [46.53, 56.43], None, tick_axis(LEN_TICKS, size=22, ln=22))
box(xa, ya, [0, 1], LEN_BM_Q1, LEN_BM_MED, LEN_BM_Q3, LEN_BM_LOW, LEN_BM_HIGH, [TEAL, ORANGE], .605)
dots(xa, ya, LEN_BM_PX, LEN_BM_PY, 8.5, "#000")
xa, ya = axes((707, 881), (1338, 1677), [-.643, 1.55], [46.53, 56.43])
box(xa, ya, [0, 1], LEN_PB_Q1, LEN_PB_MED, LEN_PB_Q3, LEN_PB_LOW, LEN_PB_HIGH, [TEAL, ORANGE], .605)
dots(xa, ya, LEN_PB_PX, LEN_PB_PY, 8.5, "#000")
xa, ya = axes((528, 702), (1692, 1718), [-.593, 1.6], [-1, 1], None, tick_axis([0], size=22, ln=22))
fig.add_trace(go.Scatter(x=[0], y=[0], mode="markers", marker=dict(opacity=0), xaxis=xa, yaxis=ya, showlegend=False, hoverinfo="skip"))
line(521, 1678, 535, 1674, "#111", 2.5)
line(521, 1693, 535, 1689, "#111", 2.5)
strip(528, 1274, 881, 1303, "TAG length", 24, 713)
strip(528, 1307, 702, 1336, "BMIF", 24, 615.5)
strip(707, 1307, 881, 1336, "PBP", 24, 790.5)
text(458, 1498, "TAG length", 21.5, angle=-90)

# TAG unsaturation
UNS_TICKS = list(range(13))
xa, ya = axes((1010.5, 1191), (1339, 1720), [-.607, 1.507], [-.6, 12.58], None, tick_axis(UNS_TICKS, size=22, ln=22))
box(xa, ya, [0, 1], UNS_BM_Q1, UNS_BM_MED, UNS_BM_Q3, UNS_BM_LOW, UNS_BM_HIGH, [TEAL, ORANGE], .61)
dots(xa, ya, UNS_BM_PX, UNS_BM_PY, 8.5, "#000")
xa, ya = axes((1196.4, 1370), (1339, 1720), [-.736, 1.30], [-.6, 12.58])
box(xa, ya, [0, 1], UNS_PB_Q1, UNS_PB_MED, UNS_PB_Q3, UNS_PB_LOW, UNS_PB_HIGH, [TEAL, ORANGE], .61)
dots(xa, ya, UNS_PB_PX, UNS_PB_PY, 8.5, "#000")
strip(1017.3, 1274, 1370, 1303, "TAG unsaturation", 24, 1209.5)
strip(1017.3, 1307, 1191, 1336, "BMIF", 24, 1104.5)
strip(1196.4, 1307, 1370, 1336, "PBP", 24, 1280)
text(938, 1498, "TAG unsaturation", 21.5, angle=-90)
legend_row(1382, 1399, 1285, 18, TEAL, "Dx–enriched TAG", 1407, 22.5)
legend_row(1382, 1399, 1308, 18, ORANGE, "D29–enriched TAG", 1407, 22.5)

fig.update_layout(width=W, height=H, margin=dict(l=0, r=0, t=0, b=0, autoexpand=False), paper_bgcolor="#fff", plot_bgcolor="rgba(0,0,0,0)",
                  font=dict(family=FONT, color="#111"), barmode="stack", boxmode="overlay", showlegend=False,
                  shapes=shapes, annotations=annotations, **layout)
fig.write_html("out.html", config={"displayModeBar": False},
               post_script="document.body.style.margin='0';document.body.style.overflow='hidden';")
